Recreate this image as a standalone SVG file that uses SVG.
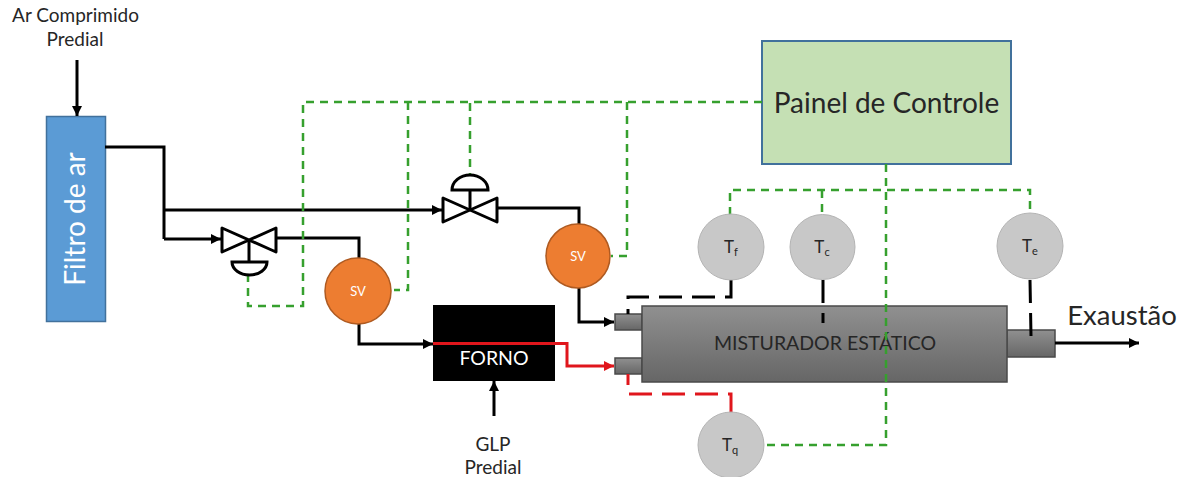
<svg xmlns="http://www.w3.org/2000/svg" width="1184" height="477" viewBox="0 0 1184 477">
<style>
text{font-family:"Lato","Open Sans","Liberation Sans",sans-serif;fill:#262626;text-anchor:middle}
.w{fill:#fff}
.pipe{fill:none;stroke:#000;stroke-width:3}
.red{fill:none;stroke:#e0161c;stroke-width:3}
.sig{fill:none;stroke:#36a02e;stroke-width:2.500;stroke-dasharray:8 6}
.sv{fill:#ed7d31;stroke:#ae5a21;stroke-width:1.5}
.tt{fill:#c8c8c8;stroke:#b4b4b4;stroke-width:1}
.metal{fill:url(#g);stroke:#4a4a4a;stroke-width:1.5}
.valve{fill:#fff;stroke:#000;stroke-width:3;stroke-linejoin:round}
.act{fill:#fff;stroke:#000;stroke-width:3}
</style>
<defs>
<linearGradient id="g" x1="0" y1="0" x2="0" y2="1"><stop offset="0" stop-color="#909090"/><stop offset="1" stop-color="#666"/></linearGradient>
<marker id="ak" markerWidth="12" markerHeight="12" refX="10" refY="5" orient="auto" markerUnits="userSpaceOnUse"><path d="M0 0L10 5L0 10z" fill="#000"/></marker>
<marker id="ar" markerWidth="12" markerHeight="12" refX="10" refY="5" orient="auto" markerUnits="userSpaceOnUse"><path d="M0 0L10 5L0 10z" fill="#e0161c"/></marker>
</defs>
<rect width="1184" height="477" fill="#fff"/>
<g id="filtro"><rect x="46.5" y="116.5" width="59" height="205" fill="#5b9bd5" stroke="#41719c" stroke-width="1.5"/>
<text class="w" transform="translate(85 219) rotate(-90)" font-size="28">Filtro de ar</text></g>
<g id="painel"><rect x="762" y="41" width="249" height="123" fill="#c5e0b4" stroke="#41719c" stroke-width="2"/>
<text x="886.500" y="113" font-size="28">Painel de Controle</text></g>
<g id="forno"><rect x="433" y="305" width="122" height="76" fill="#000"/>
<text class="w" x="494" y="365" font-size="19.500">FORNO</text></g>
<g id="misturador"><rect class="metal" x="615" y="314" width="27" height="16"/><rect class="metal" x="615" y="358" width="27" height="16"/>
<rect class="metal" x="1007" y="330" width="48" height="27"/><rect class="metal" x="642" y="306" width="365" height="76"/>
<text x="825" y="350" font-size="19.500">MISTURADOR  ESTÁTICO</text></g>
<g id="connectors">
<path class="pipe" marker-end="url(#ak)" d="M77 60V116"/>
<path class="pipe" d="M105 147H164V239"/>
<path class="pipe" marker-end="url(#ak)" d="M164 239H221"/>
<path class="pipe" marker-end="url(#ak)" d="M164 210H442"/>
<path class="pipe" d="M277 238H359V258"/>
<path class="pipe" marker-end="url(#ak)" d="M359 323V344H433"/>
<path class="pipe" d="M498 208H579V224"/>
<path class="pipe" marker-end="url(#ak)" d="M579 288V322H614"/>
<path class="pipe" marker-end="url(#ak)" d="M494 416V381"/>
<path class="red" marker-end="url(#ar)" d="M433 343.500H567V366H614"/>
<path class="pipe" marker-end="url(#ak)" d="M1055 343H1139"/>
<path class="sig" d="M762 102H303V306H248V275"/>
<path class="sig" d="M408 102V290H394"/>
<path class="sig" d="M470 103V174"/>
<path class="sig" d="M627 102V256H611"/>
<path class="sig" d="M886 164V445H765"/>
<path class="sig" d="M730 215V190H1030V214"/>
<path class="sig" d="M822 190V215"/>
<path class="pipe" stroke-dasharray="23 10" d="M731 280V297H628V314"/>
<path class="pipe" stroke-dasharray="23 10 10" d="M823 280V323"/>
<path class="pipe" stroke-dasharray="23 10" d="M1030 280L1031 336"/>
<path class="red" stroke-dasharray="23 10" d="M731 414V394H628V374"/>
</g>
<g id="valvula1"><path class="pipe" d="M249 240V262"/><path class="valve" d="M222 228L276 252V228L222 252Z"/><path class="act" d="M232 262H267A17.500 13 0 0 1 232 262Z"/></g>
<g id="valvula2"><path class="pipe" d="M470 190V210"/><path class="valve" d="M443 198L497 222V198L443 222Z"/><path class="act" d="M452 190H488A18 15 0 0 0 452 190Z"/></g>
<g id="sv1"><circle class="sv" cx="358" cy="291" r="33"/><text class="w" x="358" y="296" font-size="13">SV</text></g>
<g id="sv2"><circle class="sv" cx="578" cy="256" r="32"/><text class="w" x="578" y="261" font-size="13">SV</text></g>
<g id="tf"><circle class="tt" cx="731" cy="247" r="33"/><text x="731" y="253" font-size="17">T<tspan font-size="11" dy="3">f</tspan></text></g>
<g id="tc"><circle class="tt" cx="822.500" cy="247" r="32.500"/><text x="822" y="253" font-size="17">T<tspan font-size="11" dy="3">c</tspan></text></g>
<g id="te"><circle class="tt" cx="1030" cy="246" r="33"/><text x="1030" y="252" font-size="17">T<tspan font-size="11" dy="3">e</tspan></text></g>
<g id="tq"><circle class="tt" cx="731" cy="445" r="33"/><text x="730" y="451" font-size="17">T<tspan font-size="11" dy="3">q</tspan></text></g>
<g id="labels">
<text x="75.500" y="22" font-size="19">Ar Comprimido</text>
<text x="75" y="46" font-size="19">Predial</text>
<text x="493" y="451" font-size="19">GLP</text>
<text x="493" y="474" font-size="19">Predial</text>
<text x="1122" y="325" font-size="27.500">Exaustão</text>
</g>
</svg>
